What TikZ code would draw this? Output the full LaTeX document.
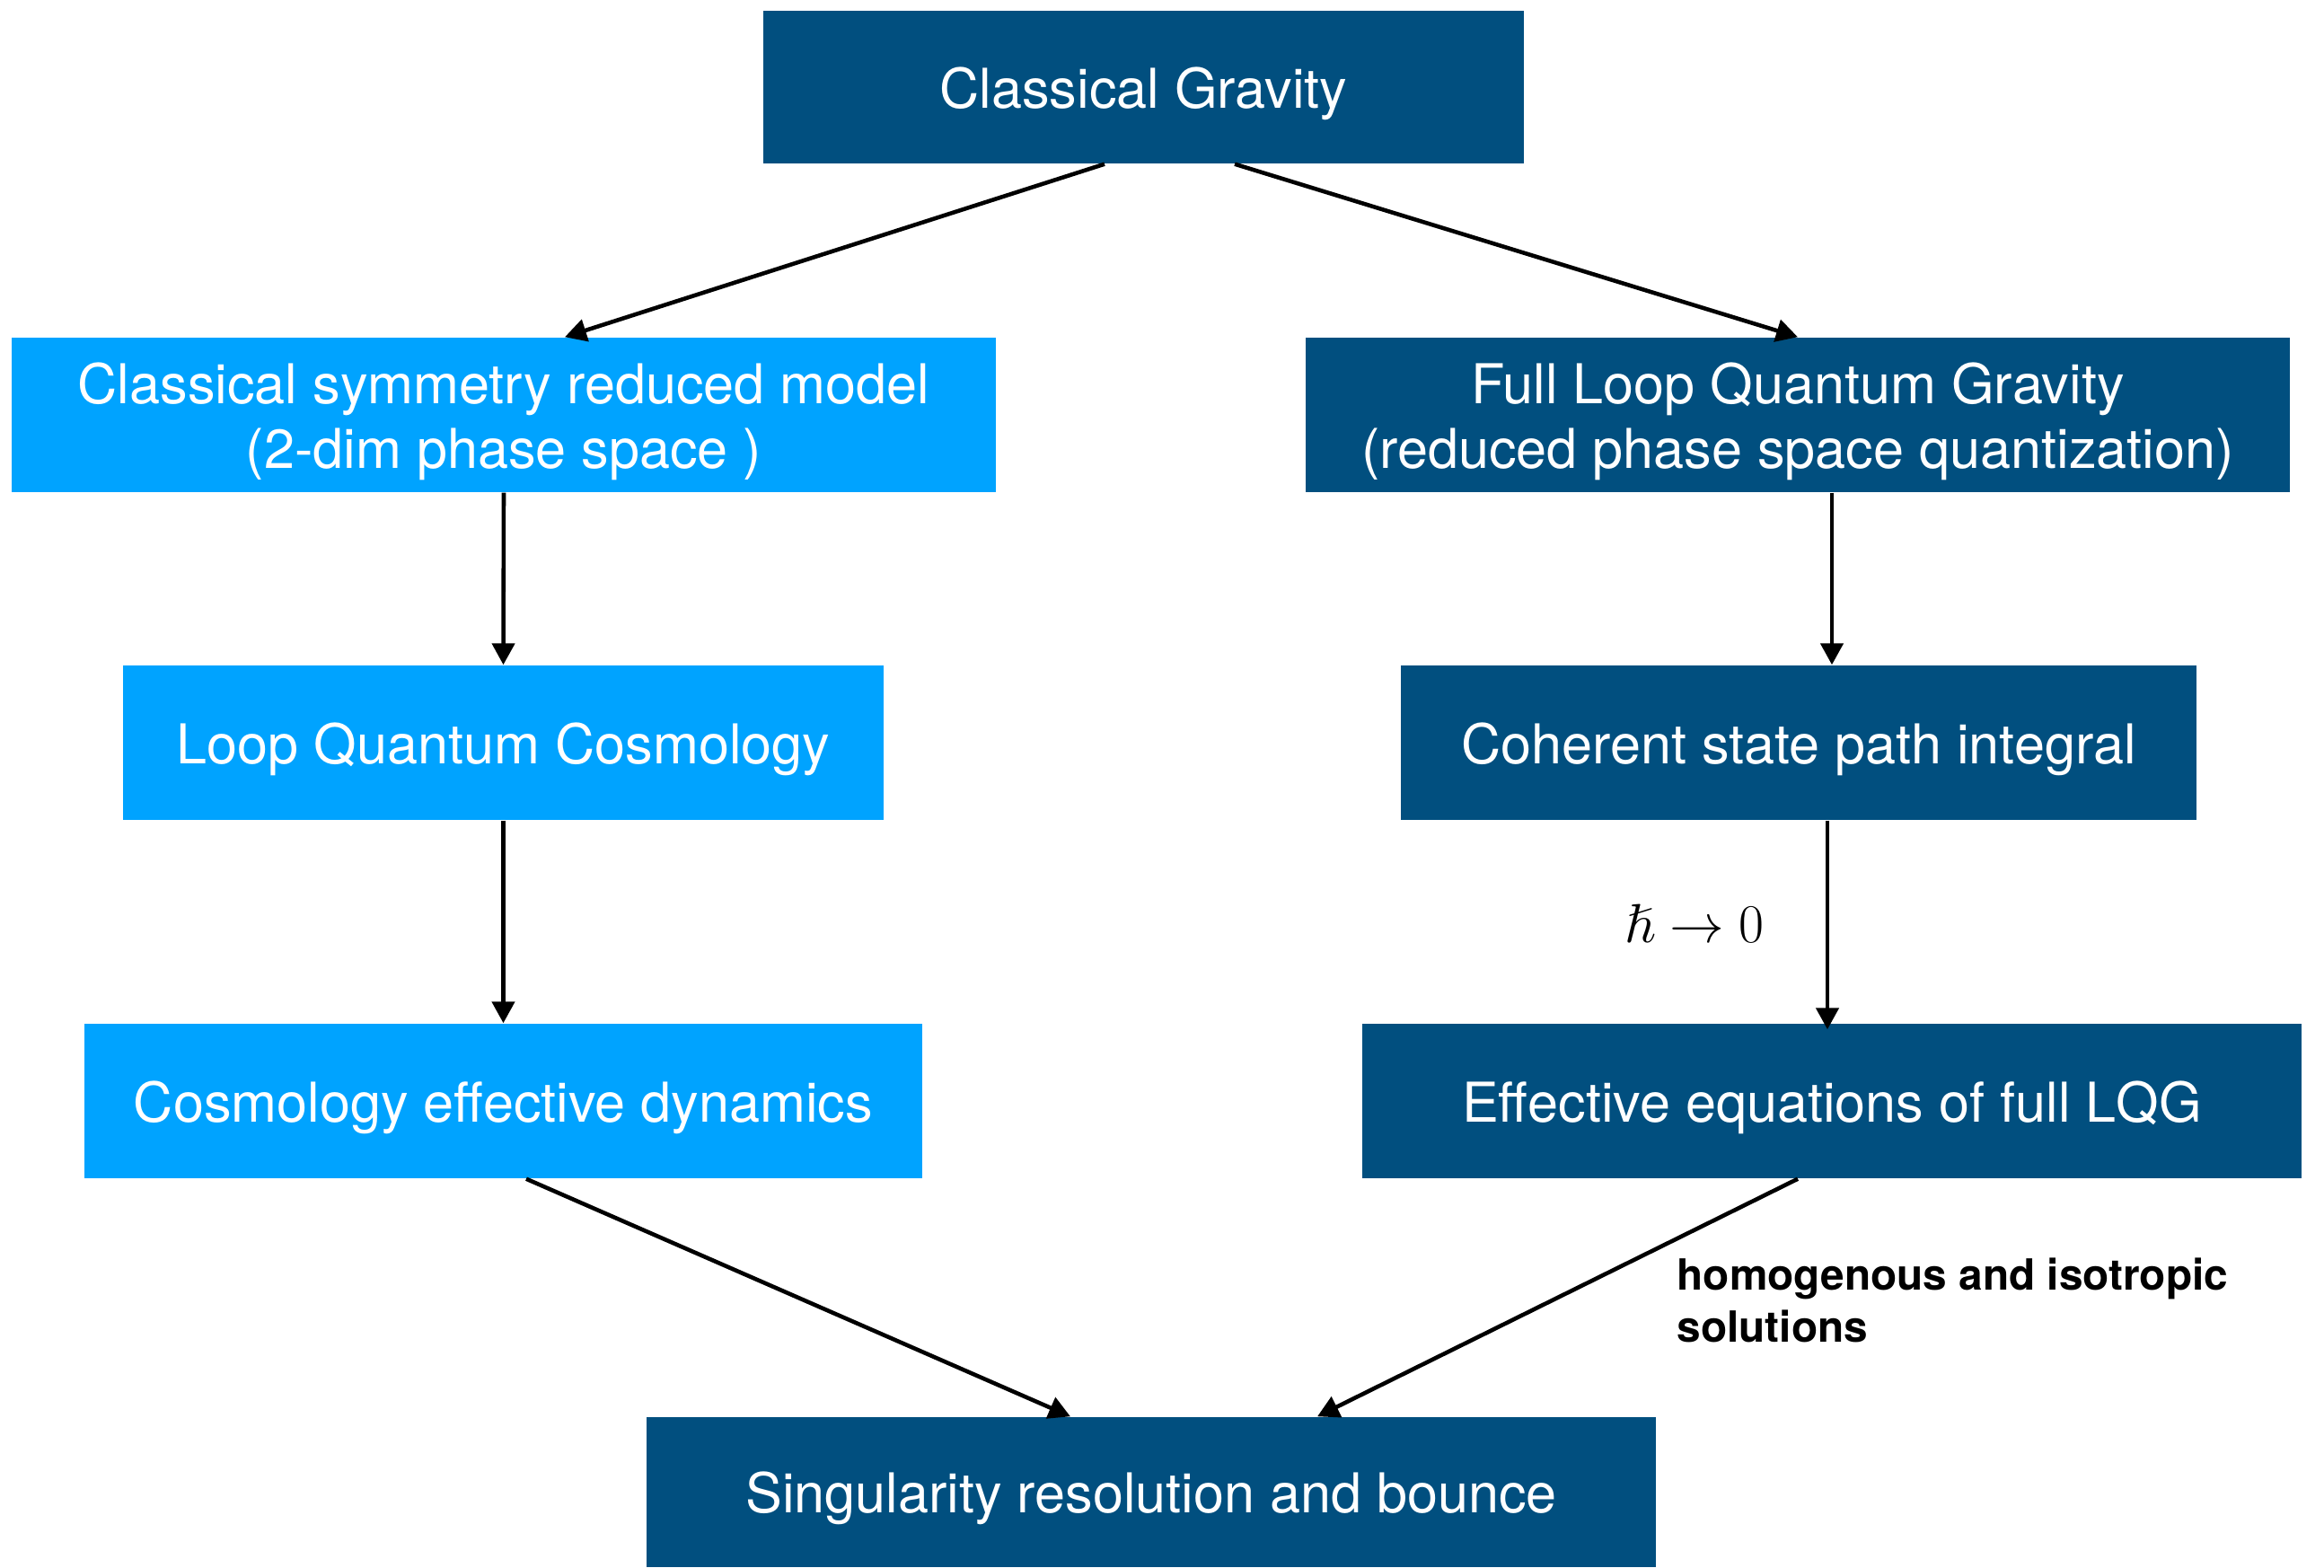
\documentclass[tikz,border=0pt]{standalone}
\usepackage{fontspec}
\usepackage{amssymb}
\setmainfont{TeX Gyre Heros}
\usetikzlibrary{arrows.meta}
\definecolor{darkbox}{RGB}{1,79,127}
\definecolor{lightbox}{RGB}{0,163,255}
\newcommand{\boxstrut}{\rule[-0.22em]{0pt}{1.2em}}

\begin{document}
\begin{tikzpicture} [box/.style={fill=#1, text=white, align=center, inner sep=0, font=\fontsize{17.4}{20.5}\selectfont,
  execute at begin node=\boxstrut},
 arr/.style={black, line width=1.3pt, -{Triangle[length=0.24cm, width=0.25cm]}}]
\useasboundingbox (0,0) rectangle (25.88,17.45);
\node[box=darkbox, minimum width=8.47cm, minimum height=1.70cm] (cg) at (12.735,16.48) {Classical Gravity};
\node[box=lightbox, minimum width=10.96cm, minimum height=1.72cm] (csr) at (5.61,12.83) {\boxstrut Classical symmetry reduced model\\(2-dim phase space )};
\node[box=darkbox, minimum width=10.96cm, minimum height=1.72cm] (flqg) at (20.02,12.83) {\boxstrut Full Loop Quantum Gravity\\(reduced phase space quantization)};
\node[box=lightbox, minimum width=8.47cm, minimum height=1.72cm] (lqc) at (5.605,9.18) {Loop Quantum Cosmology};
\node[box=darkbox, minimum width=8.86cm, minimum height=1.72cm] (coh) at (20.03,9.18) {Coherent state path integral};
\node[box=lightbox, minimum width=9.33cm, minimum height=1.72cm] (ced) at (5.605,5.19) {Cosmology effective dynamics};
\node[box=darkbox, minimum width=10.46cm, minimum height=1.72cm] (ee) at (20.40,5.19) {Effective equations of full LQG};
\node[box=darkbox, minimum width=11.24cm, minimum height=1.67cm] (sing) at (12.82,0.835) {Singularity resolution and bounce};
\node (hbar) at (18.87,7.17) {\fontsize{17.4}{20}\selectfont $\hslash\rightarrow0$};
\node[anchor=west, align=left, inner sep=0, font=\fontsize{13.6}{16.5}\selectfont\bfseries] (hom) at (18.67,2.97) {homogenous and isotropic\\solutions};
\draw[arr] ([xshift=-0.435cm]cg.south) -- ([xshift=0.68cm]csr.north);
\draw[arr] ([xshift=1.015cm]cg.south) -- (flqg.north);
\draw[arr] (csr.south) -- (lqc.north);
\draw[arr] (lqc.south) -- (ced.north);
\draw[arr] ([xshift=0.38cm]flqg.south) -- ([xshift=0.38cm]flqg.south |- coh.north);
\draw[arr] ([xshift=0.32cm]coh.south) -- ([xshift=0.32cm,yshift=-0.07cm]coh.south |- ee.north);
\draw[arr] ([xshift=0.255cm]ced.south) -- ([xshift=-0.9cm]sing.north);
\draw[arr] ([xshift=-0.38cm]ee.south) -- ([xshift=1.85cm]sing.north);
\end{tikzpicture}
\end{document}
